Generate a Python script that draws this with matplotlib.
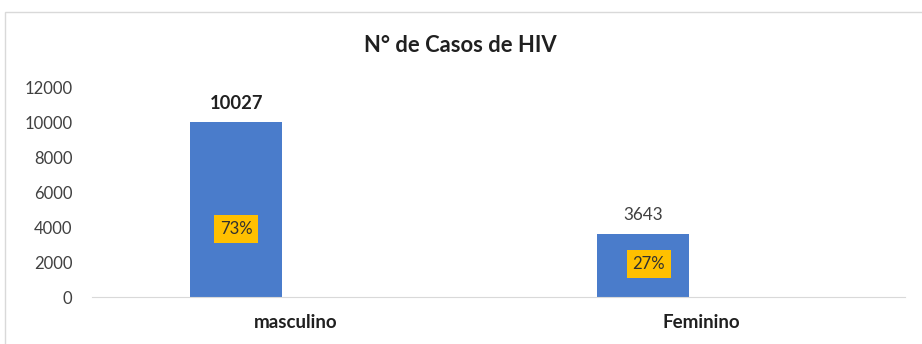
import matplotlib
matplotlib.use("Agg")
import matplotlib.pyplot as plt
from matplotlib.patches import Rectangle

categories = ["masculino", "Feminino"]
values = [10027, 3643]
percents = ["73%", "27%"]
pct_y = [3900, 1900]
yticks = [0, 2000, 4000, 6000, 8000, 10000, 12000]

plt.rcParams['font.family'] = ['Lato', 'DejaVu Sans']

fig = plt.figure(figsize=(9.22, 3.44), dpi=100)
fig.patches.append(Rectangle((5/922, -0.05), 1.0, 1 - 12/344 + 0.05, transform=fig.transFigure,
                             fill=False, edgecolor='#d9d9d9', linewidth=1.0))
ax = fig.add_axes([92/922, 1 - 297/344, (905 - 92)/922, (297 - 88)/344])

x = [0, 1]
offset = -0.145
width = 0.227
bx = [xi + offset for xi in x]
ax.bar(bx, values, width=width, color='#4A7CCB', zorder=2)

ax.set_xlim(-0.5, 1.5)
ax.set_ylim(0, 12000)
ax.set_yticks(yticks)
ax.set_yticklabels([str(v) for v in yticks], fontsize=12, color='#404040')
ax.set_xticks(x)
ax.set_xticklabels(categories, fontsize=13.5, fontweight='bold', color='#202020')
ax.tick_params(length=0)
ax.tick_params(axis='y', pad=14)
ax.tick_params(axis='x', pad=12)
for s in ['top', 'right', 'left']:
    ax.spines[s].set_visible(False)
ax.spines['bottom'].set_color('#d9d9d9')

# value labels
ax.text(bx[0], values[0] + 600, str(values[0]), ha='center', va='bottom',
        fontsize=13.2, fontweight='bold', color='#202020')
ax.text(bx[1], values[1] + 600, str(values[1]), ha='center', va='bottom',
        fontsize=12.3, color='#404040')

# percent labels
pct_x = [bx[0], bx[1] + 0.015]
for px, py, p in zip(pct_x, pct_y, percents):
    ax.text(px, py, p, ha='center', va='center', fontsize=12, color='#303030',
            bbox=dict(boxstyle='square,pad=0.35', facecolor='#FFC000', edgecolor='none'))

fig.text(460/922, 1 - 46/344, "N° de Casos de HIV", ha='center', va='center',
         fontsize=15.8, fontweight='bold', color='#202020')

fig.savefig("out.png", dpi=100)
